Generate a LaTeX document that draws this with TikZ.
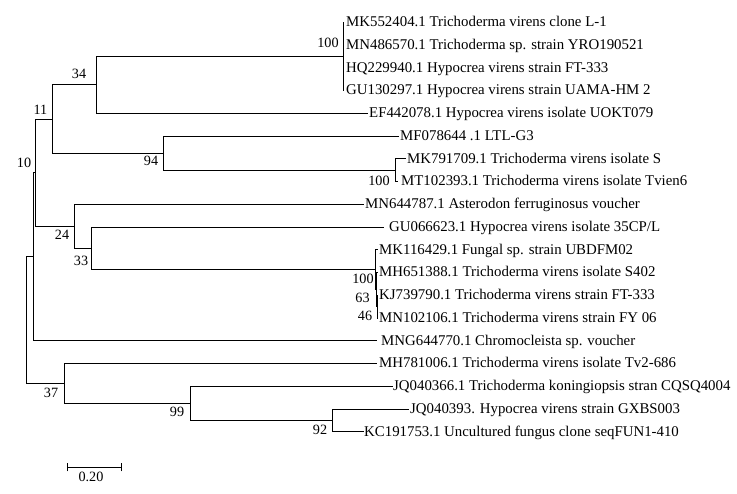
\documentclass[tikz,border=0pt]{standalone}
\usepackage{fontspec}
\setmainfont{Liberation Serif}
\begin{document}
\begin{tikzpicture}[x=1pt,y=-1pt,
  br/.style={line width=1pt,line cap=rect},
  leaf/.style={anchor=base west,inner sep=0pt,font=\fontsize{14.85}{16}\selectfont},
  boot/.style={anchor=center,inner sep=0pt,font=\fontsize{14.2}{16}\selectfont}]
\useasboundingbox (0,0) rectangle (737,494);
% internal nodes
\coordinate (R) at (26,320);
\coordinate (B) at (33,257);
\coordinate (A) at (35,173);
\coordinate (N11) at (52,119.2);
\coordinate (N34) at (96,85);
\coordinate (C1) at (343,56.6);
\coordinate (C1t) at (343,22.5);
\coordinate (C1b) at (343,91);
\coordinate (N94) at (163,153.3);
\coordinate (N100b) at (395,170.4);
\coordinate (N24) at (74,226.6);
\coordinate (N33) at (91,248.6);
\coordinate (X) at (375,270);
\coordinate (Y) at (376,290);
\coordinate (Z) at (377,307);
\coordinate (N37) at (64,383.7);
\coordinate (N99) at (190,403.6);
\coordinate (N92) at (332,420.6);
% leaf tips
\coordinate (l4) at (367,113.5);
\coordinate (l5) at (398,136.25);
\coordinate (l6) at (405,159);
\coordinate (l7) at (397,181.75);
\coordinate (l8) at (363,204.5);
\coordinate (l9) at (383,227.25);
\coordinate (l10) at (377.5,250);
\coordinate (l11) at (377.5,272.75);
\coordinate (l12) at (377.5,295.5);
\coordinate (l13) at (377.5,318.25);
\coordinate (l14) at (376,341);
\coordinate (l15) at (376,363.75);
\coordinate (l16) at (392,386.5);
\coordinate (l17) at (408,409.25);
\coordinate (l18) at (363,432);
% branches
\draw[br] (R) |- (B);
\draw[br] (R) |- (N37);
\draw[br] (B) |- (A);
\draw[br] (B) |- (l14);
\draw[br] (A) |- (N11);
\draw[br] (A) |- (N24);
\draw[br] (N11) |- (N34);
\draw[br] (N11) |- (N94);
\draw[br] (N34) |- (C1);
\draw[br] (N34) |- (l4);
\draw[br] (C1t) -- (C1b);
\draw[br] (N94) |- (l5);
\draw[br] (N94) |- (N100b);
\draw[br] (N100b) |- (l6);
\draw[br] (N100b) |- (l7);
\draw[br] (N24) |- (l8);
\draw[br] (N24) |- (N33);
\draw[br] (N33) |- (l9);
\draw[br] (N33) |- (X);
\draw[br] (X) |- (l10);
\draw[br] (X) |- (Y);
\draw[br] (Y) |- (l11);
\draw[br] (Y) |- (Z);
\draw[br] (Z) |- (l12);
\draw[br] (Z) |- (l13);
\draw[br] (N37) |- (l15);
\draw[br] (N37) |- (N99);
\draw[br] (N99) |- (l16);
\draw[br] (N99) |- (N92);
\draw[br] (N92) |- (l17);
\draw[br] (N92) |- (l18);
% leaf labels
\node[leaf] (t0) at (346,26.8) {MK552404.1 Trichoderma virens clone L-1};
\node[leaf] (t1) at (346,49.5) {MN486570.1 Trichoderma sp. strain YRO190521};
\node[leaf] (t2) at (346,72.3) {HQ229940.1 Hypocrea virens strain FT-333};
\node[leaf] (t3) at (346,95) {GU130297.1 Hypocrea virens strain UAMA-HM 2};
\node[leaf] (t4) at (369,117.8) {EF442078.1 Hypocrea virens isolate UOKT079};
\node[leaf] (t5) at (400,140.5) {MF078644 .1 LTL-G3};
\node[leaf] (t6) at (407,163.3) {MK791709.1 Trichoderma virens isolate S};
\node[leaf] (t7) at (401,186) {MT102393.1 Trichoderma virens isolate Tvien6};
\node[leaf] (t8) at (365,208.8) {MN644787.1 Asterodon ferruginosus voucher};
\node[leaf] (t9) at (389,231.5) {GU066623.1 Hypocrea virens isolate 35CP/L};
\node[leaf] (t10) at (379,254.3) {MK116429.1 Fungal sp. strain UBDFM02};
\node[leaf] (t11) at (379,277) {MH651388.1 Trichoderma virens isolate S402};
\node[leaf] (t12) at (379,299.8) {KJ739790.1 Trichoderma virens strain FT-333};
\node[leaf] (t13) at (379,322.5) {MN102106.1 Trichoderma virens strain FY 06};
\node[leaf] (t14) at (381,345.3) {MNG644770.1 Chromocleista sp. voucher};
\node[leaf] (t15) at (379,368) {MH781006.1 Trichoderma virens isolate Tv2-686};
\node[leaf] (t16) at (393,390.8) {JQ040366.1 Trichoderma koningiopsis stran CQSQ4004};
\node[leaf] (t17) at (410,413.5) {JQ040393. Hypocrea virens strain GXBS003};
\node[leaf] (t18) at (364,436.3) {KC191753.1 Uncultured fungus clone seqFUN1-410};
% bootstrap values
\node[boot] (b100a) at (328,43) {100};
\node[boot] (b34) at (79,74) {34};
\node[boot] (b11) at (40.5,110) {11};
\node[boot] (b10) at (24,163) {10};
\node[boot] (b94) at (151,161) {94};
\node[boot] (b100b) at (379,181) {100};
\node[boot] (b24) at (62,235) {24};
\node[boot] (b33) at (81,261) {33};
\node[boot] (b100c) at (363,279) {100};
\node[boot] (b63) at (362.5,298) {63};
\node[boot] (b46) at (365,316) {46};
\node[boot] (b37) at (51,392.5) {37};
\node[boot] (b99) at (177,412) {99};
\node[boot] (b92) at (320,430) {92};
% scale bar
\coordinate (s1) at (67.5,467.5);
\coordinate (s2) at (121,467.5);
\draw[br,line cap=butt] (s1) -- (s2);
\draw[br,line cap=butt] ([yshift=-4pt]s1) -- ([yshift=4pt]s1);
\draw[br,line cap=butt] ([yshift=-4pt]s2) -- ([yshift=4pt]s2);
\node[boot] (sl) at (91,476.5) {0.20};
\end{tikzpicture}
\end{document}
